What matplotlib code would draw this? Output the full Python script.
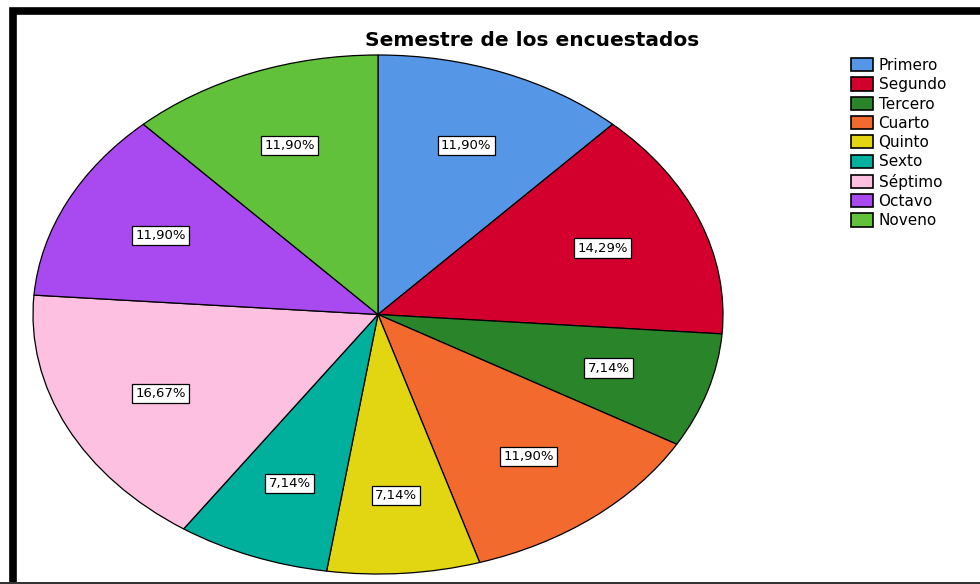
import matplotlib
matplotlib.use("Agg")
import matplotlib.pyplot as plt
from matplotlib.patches import Rectangle

plt.rcParams['font.family'] = ['DejaVu Sans']

# Datos: semestre de los encuestados (n = 42)
semestres = ['Primero', 'Segundo', 'Tercero', 'Cuarto', 'Quinto',
             'Sexto', 'Séptimo', 'Octavo', 'Noveno']
frecuencias = [5, 6, 3, 5, 3, 3, 7, 5, 5]
colores = ['#5696E6', '#D3002E', '#2A8429', '#F26A2D', '#E2D511',
           '#00B09D', '#FDC0E0', '#A94AF1', '#62C13B']

W, H = 980, 584
fig = plt.figure(figsize=(W / 100, H / 100), dpi=100)

# marco negro grueso del visor
fig.patches.append(Rectangle((12.5 / W, -0.01), 1.05, (H - 11) / H + 0.01,
                             transform=fig.transFigure, fill=False,
                             edgecolor='black', linewidth=5.5))
fig.patches.append(Rectangle((0, 0), 1, 2 / H, transform=fig.transFigure,
                             facecolor='#333333', edgecolor='none'))

# pastel eliptico
ax = fig.add_axes([33 / W, 10 / H, 690 / W, 519 / H])


def etiqueta(pct):
    return f"{pct:.2f}%".replace('.', ',')


wedges, texts, autotexts = ax.pie(
    frecuencias, colors=colores, startangle=90, counterclock=False,
    autopct=etiqueta, pctdistance=0.7,
    wedgeprops=dict(edgecolor='black', linewidth=0.9))
ax.set_aspect('auto')
ax.set_xlim(-1.0, 1.0)
ax.set_ylim(-1.0, 1.0)
ax.axis('off')

for t in autotexts:
    t.set_fontsize(9.5)
    t.set_color('black')
    t.set_bbox(dict(facecolor='white', edgecolor='black', linewidth=0.9,
                    boxstyle='square,pad=0.25'))

fig.text(532 / W, (H - 41) / H, 'Semestre de los encuestados',
         ha='center', va='center', fontsize=14.5, fontweight='bold')

leg = fig.legend(wedges, semestres, loc='upper left',
                 bbox_to_anchor=(851 / W, (H - 58) / H), frameon=False,
                 fontsize=11, handlelength=1.45, handleheight=0.95,
                 handletextpad=0.35, labelspacing=0.28, borderpad=0,
                 borderaxespad=0)
for p in leg.get_patches():
    p.set_linewidth(1.2)

fig.savefig('out.png', dpi=100)
